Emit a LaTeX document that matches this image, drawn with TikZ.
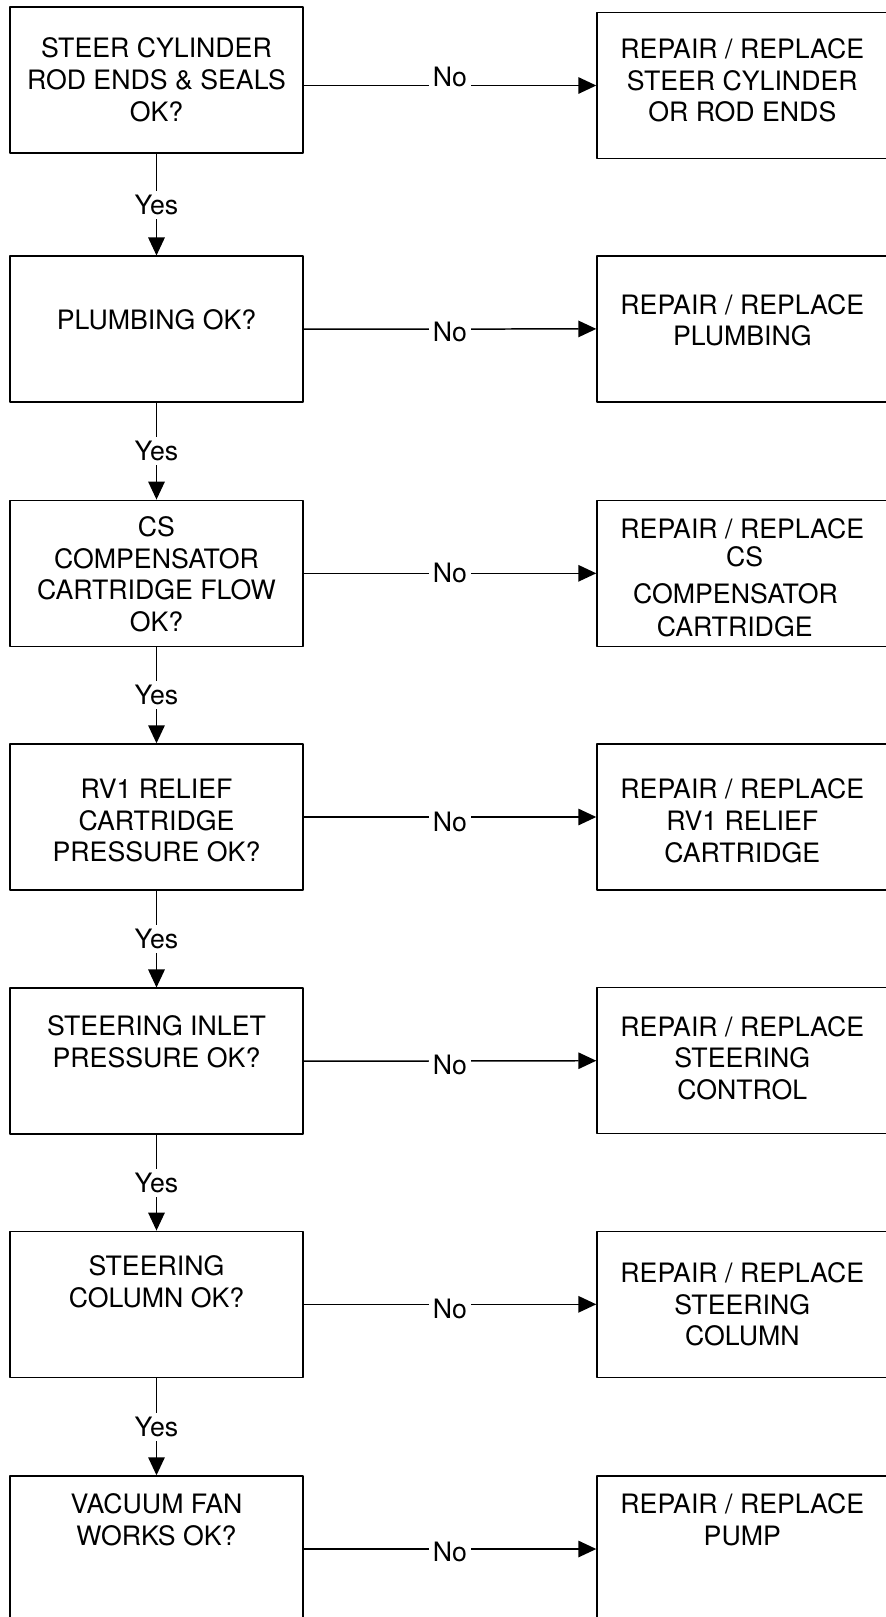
\documentclass[tikz,border=0pt]{standalone}
\usepackage{fontspec}
\setmainfont{TeX Gyre Heros}
\usetikzlibrary{arrows.meta, positioning}

\begin{document}
\begin{tikzpicture}[x=0.02cm, y=-0.02cm, line join=round,
    >={Triangle[length=0.36cm, width=0.33cm]},
    box/.style={draw, line width=0.85pt, minimum width=5.86cm, minimum height=2.92cm, inner sep=0pt},
    fixbox/.style={box, minimum width=5.84cm},
    txt/.style={anchor=north, inner sep=0pt, align=center, font=\fontsize{15.2}{18.05}\selectfont},
    lab/.style={fill=white, inner sep=0.08cm, font=\fontsize{15.2}{18.05}\selectfont},
    arr/.style={->, line width=0.85pt}]
      \useasboundingbox (0,0) rectangle (886,1617);
      \clip (0,0) rectangle (886,1617);
      % checks (left column)
      \node[box] (q1) at (156.5,80) {};
      \node[box] (q2) at (156.5,329.2) {};
      \node[box] (q3) at (156.5,573.3) {};
      \node[box] (q4) at (156.5,817) {};
      \node[box] (q5) at (156.5,1061.2) {};
      \node[box] (q6) at (156.5,1304.3) {};
      \node[box] (q7) at (156.5,1549) {};
      % fixes (right column)
      \node[fixbox] (r1) at (743,85.5) {};
      \node[fixbox] (r2) at (743,328.9) {};
      \node[fixbox] (r3) at (743,573.3) {};
      \node[fixbox] (r4) at (743,817) {};
      \node[fixbox] (r5) at (743,1060.7) {};
      \node[fixbox] (r6) at (743,1304.3) {};
      \node[fixbox] (r7) at (743,1549) {};
      % texts
      \node[txt] (tq1) at (156.5,37.5) {STEER CYLINDER\\ROD ENDS \& SEALS\\OK?};
      \node[txt] (tq2) at (156.5,309.5) {PLUMBING OK?};
      \node[txt] (tq3) at (156.5,516) {CS\\COMPENSATOR\\CARTRIDGE FLOW\\OK?};
      \node[txt] (tq4) at (156.5,778.5) {RV1 RELIEF\\CARTRIDGE\\PRESSURE OK?};
      \node[txt] (tq5) at (156.5,1015.5) {STEERING INLET\\PRESSURE OK?};
      \node[txt] (tq6) at (156.5,1255.5) {STEERING\\COLUMN OK?};
      \node[txt] (tq7) at (156.5,1493.5) {VACUUM FAN\\WORKS OK?};
      \node[txt] (tr1) at (742.3,38) {REPAIR / REPLACE\\STEER CYLINDER\\OR ROD ENDS};
      \node[txt] (tr2) at (742.3,293.7) {REPAIR / REPLACE\\PLUMBING};
      \node[txt] (tr3a) at (742.3,517.7) {REPAIR / REPLACE};
      \node[txt] (tr3b) at (744.7,546.5) {CS};
      \node[txt] (tr3c) at (735.5,583) {COMPENSATOR};
      \node[txt] (tr3d) at (734.7,616) {CARTRIDGE};
      \node[txt] (tr4) at (742.3,778.5) {REPAIR / REPLACE\\RV1 RELIEF\\CARTRIDGE};
      \node[txt] (tr5) at (742.3,1015.7) {REPAIR / REPLACE\\STEERING\\CONTROL};
      \node[txt] (tr6) at (742.3,1262) {REPAIR / REPLACE\\STEERING\\COLUMN};
      \node[txt] (tr7) at (742.3,1493.5) {REPAIR / REPLACE\\PUMP};
      % no branches
      \draw[arr] (q1.east |- r1.west) -- node[lab, yshift=0.18cm] {No} (r1.west);
      \draw[arr] (q2.east) -- node[lab, yshift=-0.06cm] {No} (r2.west);
      \draw[arr] (q3.east) -- node[lab] {No} (r3.west);
      \draw[arr] (q4.east) -- node[lab, yshift=-0.1cm] {No} (r4.west);
      \draw[arr] (q5.east) -- node[lab, yshift=-0.08cm] {No} (r5.west);
      \draw[arr] (q6.east) -- node[lab, yshift=-0.1cm] {No} (r6.west);
      \draw[arr] (q7.east) -- node[lab, yshift=-0.06cm] {No} (r7.west);
      % yes branches
      \draw[arr] (q1.south) -- node[lab] {Yes} (q2.north);
      \draw[arr] (q2.south) -- node[lab] {Yes} (q3.north);
      \draw[arr] (q3.south) -- node[lab] {Yes} (q4.north);
      \draw[arr] (q4.south) -- node[lab] {Yes} (q5.north);
      \draw[arr] (q5.south) -- node[lab] {Yes} (q6.north);
      \draw[arr] (q6.south) -- node[lab] {Yes} (q7.north);
    \end{tikzpicture}
\end{document}
